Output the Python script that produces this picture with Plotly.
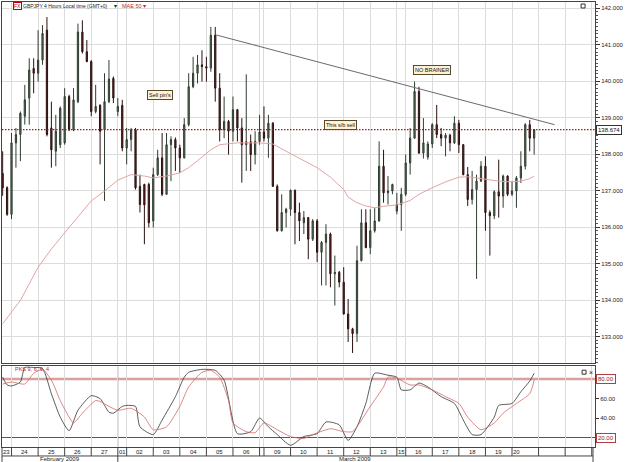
import plotly.graph_objects as go

# ---------------- data (GBPJPY 4H, 23 Feb - 20 Mar 2009) ----------------
opens = [137.47, 137.08, 136.35, 138.31, 138.54, 139.04, 139.54, 140.35, 140.22, 140.58,
         141.40, 138.72, 138.08, 138.26, 138.31, 139.58, 138.67, 139.44, 141.35, 140.81,
         140.54, 139.17, 139.34, 138.67, 139.44, 140.08, 139.17, 139.34, 138.17, 138.40,
         138.67, 137.12, 137.17, 137.17, 136.17, 137.44, 137.90, 136.90, 138.26, 138.40,
         138.17, 137.90, 138.81, 139.85, 140.22, 140.45, 140.40, 140.36, 141.26, 139.81,
         138.67, 138.90, 138.63, 139.22, 138.72, 138.26, 138.34, 137.99, 138.35, 138.61,
         138.44, 138.85, 137.12, 135.90, 136.40, 136.49, 137.01, 136.40, 136.12, 136.26,
         135.67, 136.17, 135.31, 135.58, 135.81, 134.72, 134.76, 134.49, 133.62, 133.21,
         133.08, 135.08, 136.12, 135.44, 135.90, 136.17, 137.67, 136.94, 136.99, 136.44,
         136.62, 136.90, 137.76, 138.44, 139.72, 138.03, 137.92, 138.28, 138.81, 138.54,
         138.44, 138.52, 138.31, 138.85, 138.26, 137.44, 136.76, 137.03, 137.26, 137.67,
         136.40, 136.31, 136.97, 136.85, 137.40, 136.90, 136.99, 137.35, 137.67, 138.81,
         138.44]
highs = [138.08, 137.12, 138.58, 138.72, 139.17, 139.90, 140.63, 140.63, 141.40, 141.54,
         141.76, 139.44, 139.08, 139.31, 139.81, 139.63, 139.81, 141.58, 141.67, 141.13,
         140.58, 139.90, 139.37, 140.22, 140.58, 140.13, 139.54, 139.49, 138.72, 138.72,
         138.72, 137.44, 137.19, 137.22, 137.63, 138.12, 138.58, 138.58, 138.49, 138.46,
         138.26, 138.99, 140.22, 140.67, 140.72, 140.85, 140.67, 141.49, 141.49, 140.22,
         139.58, 138.94, 139.58, 139.24, 138.99, 140.19, 138.54, 138.63, 139.08, 139.31,
         139.08, 138.88, 137.17, 136.90, 136.53, 137.03, 137.03, 136.67, 136.44, 136.28,
         136.22, 136.22, 135.62, 136.08, 135.85, 135.22, 134.80, 134.90, 134.03, 133.24,
         135.49, 136.49, 136.49, 136.49, 136.53, 138.35, 138.12, 137.40, 137.19, 136.94,
         137.08, 137.99, 138.72, 139.99, 139.85, 138.99, 138.35, 138.85, 139.35, 138.72,
         138.58, 138.56, 139.04, 138.94, 138.28, 137.65, 137.54, 137.44, 137.81, 137.94,
         136.46, 137.01, 137.85, 137.44, 137.42, 137.26, 137.40, 138.08, 138.85, 138.94,
         138.69]
lows = [136.86, 136.31, 136.22, 137.63, 137.81, 138.81, 138.81, 139.67, 139.99, 140.45,
        138.49, 137.63, 137.67, 138.17, 138.26, 138.63, 138.63, 139.40, 140.76, 140.52,
        139.04, 139.12, 137.72, 136.72, 139.40, 139.40, 139.04, 138.08, 137.72, 138.08,
        137.03, 136.40, 135.53, 135.99, 135.99, 137.40, 136.85, 136.88, 137.26, 137.54,
        137.49, 137.88, 138.76, 139.81, 139.94, 139.99, 139.99, 140.26, 139.44, 138.35,
        138.44, 137.99, 138.35, 138.35, 137.22, 137.54, 137.54, 137.72, 138.26, 138.35,
        137.90, 137.10, 135.88, 135.88, 135.99, 136.31, 135.53, 135.62, 135.81, 135.12,
        135.62, 135.04, 134.40, 134.40, 134.35, 133.85, 134.35, 133.60, 132.85, 132.55,
        132.85, 135.06, 135.42, 135.26, 135.85, 136.15, 136.67, 136.62, 136.90, 136.35,
        135.90, 136.85, 137.44, 138.42, 138.01, 137.88, 137.85, 138.17, 138.44, 138.22,
        137.94, 138.08, 138.28, 138.03, 137.42, 136.58, 136.62, 134.58, 137.24, 135.90,
        135.22, 136.22, 136.26, 136.53, 136.85, 136.85, 136.53, 137.21, 137.58, 138.08,
        137.99]
closes = [137.08, 136.35, 138.31, 138.54, 139.12, 139.49, 140.31, 140.22, 140.58, 141.31,
          138.54, 138.12, 138.63, 139.26, 139.58, 138.67, 139.49, 141.35, 140.81, 140.54,
          139.17, 139.31, 138.63, 139.44, 140.06, 139.54, 139.31, 138.17, 138.40, 138.67,
          137.08, 136.62, 136.61, 136.12, 137.44, 137.90, 136.90, 138.26, 138.40, 138.17,
          137.90, 138.81, 139.85, 140.22, 140.45, 140.40, 140.36, 141.26, 139.81, 138.67,
          138.90, 138.63, 139.22, 138.72, 138.26, 138.34, 137.99, 138.35, 138.61, 138.44,
          138.85, 137.12, 135.90, 136.40, 136.49, 137.01, 136.40, 136.17, 136.26, 135.67,
          136.17, 135.31, 135.58, 135.81, 134.72, 134.76, 134.49, 133.62, 133.21, 133.08,
          135.08, 136.12, 135.44, 135.90, 136.17, 137.67, 136.94, 136.99, 137.17, 136.62,
          136.90, 137.76, 138.44, 139.72, 138.03, 138.31, 138.28, 138.81, 138.54, 138.44,
          138.52, 138.31, 138.85, 138.26, 137.44, 136.76, 137.03, 137.26, 137.67, 136.40,
          136.31, 136.97, 136.85, 137.40, 136.90, 136.99, 137.35, 137.67, 138.81, 138.44,
          138.674]

# MAE 50 (read at selected bars)
ma_bar = [0, 4, 8, 11, 15, 20, 23, 26, 29, 32, 34, 37, 40, 42, 44, 47, 49, 53, 58, 61,
          64, 67, 71, 74, 77, 78, 80, 82, 84, 86, 89, 92, 94, 97, 100, 103, 105, 107, 110,
          112, 115, 117, 119, 120]
ma_val = [133.35, 133.99, 134.90, 135.40, 135.99, 136.72, 136.99, 137.29, 137.44, 137.40,
          137.35, 137.40, 137.49, 137.63, 137.82, 138.12, 138.26, 138.31, 138.31, 138.28,
          138.08, 137.88, 137.63, 137.37, 137.03, 136.82, 136.67, 136.58, 136.53, 136.57,
          136.61, 136.73, 136.90, 137.08, 137.24, 137.37, 137.38, 137.35, 137.30, 137.26,
          137.24, 137.26, 137.33, 137.40]

# Trend line (drawn object)
trend_bar = [48.2, 124.6]
trend_val = [141.27, 138.81]

# Stochastic (PKS 9,6,6,4)
k_bar = [0, 1, 2, 4, 5, 7, 9, 11, 13, 15, 17, 20, 22, 24, 25, 27, 28, 30, 31, 34, 36, 39, 41,
         42, 45, 48, 50, 53, 56, 58, 60, 62, 65, 68, 71, 73, 76, 78, 80, 82, 84, 87, 89, 90,
         92, 94, 96, 99, 102, 104, 106, 108, 111, 112, 115, 117, 119, 120]
k_val = [82, 74, 73, 77, 92, 92, 91, 65, 41, 27, 48, 63, 60, 46, 45, 52, 53, 52, 31, 23, 38, 62,
         82, 87, 90, 89, 79, 24, 26, 40, 31, 23, 12, 21, 24, 36, 33, 17, 31, 55, 86, 84, 82, 69,
         69, 76, 72, 62, 55, 38, 23, 23, 41, 53, 55, 67, 78, 86]
d_bar = [0, 2, 5, 7, 9, 11, 13, 15, 16, 18, 21, 22, 24, 26, 29, 32, 34, 37, 40, 42, 45, 47, 49,
         51, 52, 55, 57, 59, 62, 65, 68, 70, 74, 77, 79, 80, 83, 86, 87, 89, 92, 94, 97, 100,
         103, 105, 108, 111, 113, 116, 119, 120]
d_val = [75, 77, 75, 86, 90, 79, 58, 41, 35, 45, 58, 57, 52, 48, 50, 41, 28, 31, 52, 72, 87, 89,
         82, 58, 35, 26, 25, 35, 28, 21, 19, 23, 29, 26, 26, 31, 52, 72, 82, 81, 74, 74, 69, 62,
         55, 41, 28, 35, 45, 55, 65, 79]

# Date axis
day_labels = ["23", "24", "25", "26", "27", "01", "02", "03", "04", "05", "06", "", "09",
              "10", "11", "12", "13", "15", "16", "17", "18", "19", "20", "", "", ""]
bars_per_day = [2, 6, 6, 6, 6, 2, 6, 6, 6, 6, 6, 1, 6, 6, 6, 6, 6, 2, 6, 6, 6, 6, 6, 6, 6, 6]
month_labels = ["February 2009", "March 2009"]
month_first_day = [0, 5]
last_price = closes[-1]

# ---------------- geometry ----------------
W, H = 625, 462
L, R, T, B = 2, 26, 1, 15
PW, PH = W - L - R, H - T - B
X0, X1 = -0.15, 133.74


def fx(i):  # bar index -> paper x
    return (i - X0) / (X1 - X0)


def px(xp):  # pixel -> paper x
    return (xp - L) / PW


def py(yp):  # pixel -> paper y
    return (H - B - yp) / PH


xs = list(range(len(opens)))
starts = []
s = 0
for n in bars_per_day:
    starts.append(s)
    s += n
day_start = [starts[k] if k > 0 else X0 for k in range(len(starts))]
day_end = day_start[1:] + [day_start[-1] + bars_per_day[-1]]

fig = go.Figure()

fig.add_trace(go.Candlestick(
    x=xs, open=opens, high=highs, low=lows, close=closes,
    increasing=dict(line=dict(color="#2f3d31", width=1), fillcolor="#5b735d"),
    decreasing=dict(line=dict(color="#2b1010", width=1), fillcolor="#6e2222"),
    whiskerwidth=0, showlegend=False, hoverinfo="skip", xaxis="x", yaxis="y"))

fig.add_trace(go.Scatter(x=ma_bar, y=ma_val, mode="lines", line=dict(color="#e2a4a4", width=1),
                         showlegend=False, hoverinfo="skip", xaxis="x", yaxis="y"))
fig.add_trace(go.Scatter(x=trend_bar, y=trend_val, mode="lines", line=dict(color="#6a6a6a", width=1),
                         showlegend=False, hoverinfo="skip", xaxis="x", yaxis="y"))

fig.add_trace(go.Scatter(x=k_bar, y=k_val, mode="lines",
                         line=dict(color="#333333", width=0.8, shape="spline", smoothing=0.6),
                         showlegend=False, hoverinfo="skip", xaxis="x2", yaxis="y2"))
fig.add_trace(go.Scatter(x=d_bar, y=d_val, mode="lines",
                         line=dict(color="#d26868", width=0.8, shape="spline", smoothing=0.6),
                         showlegend=False, hoverinfo="skip", xaxis="x2", yaxis="y2"))

grid_vals = [v for v in starts[1:]]
common_x = dict(range=[X0, X1], showticklabels=False, ticks="", tickvals=grid_vals,
                showgrid=True, gridcolor="#dcdcdc", gridwidth=1, zeroline=False,
                showline=True, linecolor="#444", mirror=True, fixedrange=True)

main_bottom = py(363)
stoch_top = py(366)

fig.update_layout(
    width=W, height=H, margin=dict(l=L, r=R, t=T, b=B),
    paper_bgcolor="white", plot_bgcolor="white", boxgap=0.6,
    font=dict(family="Liberation Sans, Arial, sans-serif", size=6, color="#222"),
    xaxis=dict(anchor="y", rangeslider=dict(visible=False), **common_x),
    xaxis2=dict(anchor="y2", matches="x", **common_x),
    yaxis=dict(domain=[main_bottom, 1], range=[132.269, 142.173], side="right", dtick=1,
               tickformat=".3f", ticks="outside", ticklen=4, tickcolor="#333",
               showline=True, linecolor="#444", mirror=True, showgrid=True, gridcolor="#dcdcdc",
               zeroline=False, tickfont=dict(size=6, color="#222"), fixedrange=True,
               minor=dict(dtick=0.1, ticks="outside", ticklen=2, tickcolor="#555", showgrid=False)),
    yaxis2=dict(domain=[0, stoch_top], range=[10.26, 93.3], side="right", tickvals=[40, 60],
                ticktext=["40.00", "60.00"], ticks="outside", ticklen=3, tickcolor="#333",
                showline=True, linecolor="#444", mirror=True, showgrid=False, zeroline=False,
                tickfont=dict(size=6, color="#222"), fixedrange=True),
)

shapes = []
# current price dotted line
shapes.append(dict(type="line", xref="paper", yref="y", x0=0, x1=1, y0=last_price, y1=last_price,
                   line=dict(color="#b31010", width=1.1, dash="1.5px,1.5px")))
# stochastic levels
shapes.append(dict(type="line", xref="paper", yref="y2", x0=0, x1=1, y0=80, y1=80,
                   line=dict(color="#d9a0a0", width=2.5), layer="below"))
shapes.append(dict(type="line", xref="paper", yref="y2", x0=0, x1=1, y0=20, y1=20,
                   line=dict(color="#555", width=1), layer="below"))
# date rows
row1_top, row1_bot, row2_bot = py(447.5), py(456), py(462)
shapes.append(dict(type="line", xref="paper", yref="paper", x0=0, x1=px(597), y0=row1_bot, y1=row1_bot,
                   line=dict(color="#444", width=1)))
shapes.append(dict(type="line", xref="paper", yref="paper", x0=0, x1=0, y0=row1_top, y1=row2_bot,
                   line=dict(color="#444", width=1)))
shapes.append(dict(type="line", xref="paper", yref="paper", x0=px(597), x1=px(597), y0=row1_top, y1=row2_bot,
                   line=dict(color="#444", width=1)))
for k, st in enumerate(starts[1:], start=1):
    xpv = fx(st)
    full = k in month_first_day
    shapes.append(dict(type="line", xref="paper", yref="paper", x0=xpv, x1=xpv,
                       y0=row1_top, y1=row2_bot if full else row1_bot,
                       line=dict(color="#444", width=1)))
# month boundary in the oscillator panel (darker)
mb = fx(starts[month_first_day[1]])
shapes.append(dict(type="line", xref="paper", yref="paper", x0=mb, x1=mb, y0=0, y1=stoch_top,
                   line=dict(color="#9a9a9a", width=1), layer="below"))
# small window icons
shapes.append(dict(type="rect", xref="paper", yref="paper", x0=px(585), x1=px(589), y0=py(7), y1=py(3),
                   line=dict(color="#333", width=1)))
shapes.append(dict(type="rect", xref="paper", yref="paper", x0=px(586), x1=px(590), y0=py(374), y1=py(370),
                   line=dict(color="#333", width=1)))
fig.update_layout(shapes=shapes)

ann = []
# date labels
for k, lab in enumerate(day_labels):
    if not lab:
        continue
    a = max(day_start[k], X0)
    b = day_end[k]
    c = (a + b) / 2
    if lab == "20":
        c = a + 1.0
    ann.append(dict(x=fx(c), y=py(452), xref="paper", yref="paper", text=lab, showarrow=False,
                    font=dict(size=6, color="#222"), xanchor="center", yanchor="middle"))
# month labels
m_edges = [X0, starts[month_first_day[1]], 133.3]
for k, lab in enumerate(month_labels):
    c = (m_edges[k] + m_edges[k + 1]) / 2
    ann.append(dict(x=fx(c), y=py(459.5), xref="paper", yref="paper", text=lab, showarrow=False,
                    font=dict(size=6, color="#222"), xanchor="center", yanchor="middle"))
# header
ann.append(dict(x=px(13), y=py(5), xref="paper", yref="paper", text="FX", showarrow=False,
                font=dict(size=5, color="#c00000"), xanchor="left", yanchor="middle",
                bordercolor="#c00000", borderwidth=1, borderpad=0, bgcolor="white"))
ann.append(dict(x=px(21), y=py(5), xref="paper", yref="paper", text="GBPJPY 4 Hours Local time (GMT+0)",
                showarrow=False, font=dict(size=5, color="#222"), xanchor="left", yanchor="middle"))
ann.append(dict(x=px(113), y=py(5), xref="paper", yref="paper", text="▾", showarrow=False,
                font=dict(size=6, color="#222"), xanchor="left", yanchor="middle"))
ann.append(dict(x=px(121), y=py(5), xref="paper", yref="paper", text="MAE 50 ▾", showarrow=False,
                font=dict(size=5.5, color="#c02828"), xanchor="left", yanchor="middle"))
ann.append(dict(x=px(13), y=py(369), xref="paper", yref="paper", text="PKS 9, 6, 6, 4", showarrow=False,
                font=dict(size=5.5, color="#b02828"), xanchor="left", yanchor="middle"))
ann.append(dict(x=px(591), y=py(372), xref="paper", yref="paper", text="×", showarrow=False,
                font=dict(size=7, color="#222"), xanchor="left", yanchor="middle"))
# chart notes
note_style = dict(showarrow=False, font=dict(size=5.5, color="#111"), bgcolor="#fff3d4",
                  bordercolor="#5a4a2a", borderwidth=1, borderpad=1, xref="x", yref="y")
ann.append(dict(x=35.5, y=139.62, text="Sell pin's", **note_style))
ann.append(dict(x=97.0, y=140.30, text="NO BRAINER", **note_style))
ann.append(dict(x=76.3, y=138.80, text="This s/b sell", **note_style))
# price tag and stochastic level tags
ann.append(dict(x=1, y=last_price, xref="paper", yref="y", text=f"{last_price:.3f}", showarrow=False,
                xanchor="left", yanchor="middle", xshift=1, font=dict(size=6, color="#111"),
                bgcolor="white", bordercolor="#333", borderwidth=1, borderpad=1))
for lv in [80, 20]:
    ann.append(dict(x=1, y=lv, xref="paper", yref="y2", text=f"{lv:.2f}", showarrow=False,
                    xanchor="left", yanchor="middle", xshift=1, font=dict(size=6, color="#8b2020"),
                    bgcolor="white", bordercolor="#b04040", borderwidth=1, borderpad=1))
fig.update_layout(annotations=ann)

fig.write_html("out.html")
